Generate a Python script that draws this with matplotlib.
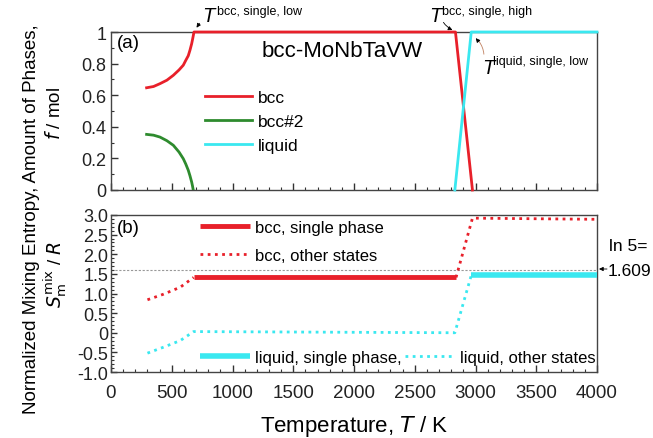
import matplotlib
matplotlib.use("Agg")
import matplotlib.pyplot as plt
from matplotlib.patches import FancyArrowPatch
from matplotlib.ticker import MultipleLocator

plt.rcParams['font.family'] = ['Liberation Sans', 'DejaVu Sans']

# ---- data (a) amount of phases ----
T_bcc = [293, 350, 403, 460, 513, 560, 595, 615, 636, 650, 664, 673, 683, 2835, 2975]
f_bcc = [0.647, 0.655, 0.673, 0.695, 0.726, 0.76, 0.79, 0.82, 0.85, 0.885, 0.926, 0.96, 1.0, 1.0, 0.0]
T_bcc2 = [293, 350, 403, 460, 513, 560, 595, 615, 636, 650, 664, 671, 677]
f_bcc2 = [0.352, 0.347, 0.335, 0.312, 0.283, 0.24, 0.198, 0.165, 0.125, 0.09, 0.05, 0.025, 0.0]
T_liq = [2830, 2965, 4000]
f_liq = [0.0, 1.0, 1.0]

# ---- data (b) normalized mixing entropy ----
T_bcc_other1 = [300, 430, 570, 680]
S_bcc_other1 = [0.84, 0.98, 1.16, 1.41]
T_bcc_single = [680, 2840]
S_bcc_single = [1.41, 1.41]
T_bcc_other2 = [2840, 2975, 4000]
S_bcc_other2 = [1.41, 2.92, 2.89]
T_liq_other = [300, 430, 570, 680, 2830, 2965]
S_liq_other = [-0.52, -0.37, -0.20, 0.03, 0.0, 1.46]
T_liq_single = [2965, 4000]
S_liq_single = [1.46, 1.46]
ln5 = 1.609

RED = '#e8202a'
GREEN = '#2e8b2e'
CYAN = '#3ae8f0'
SPINE = '#444444'

W, H = 653, 439
fig = plt.figure(figsize=(W / 100, H / 100), dpi=100)

def box(l, t, r, b):
    return [l / W, 1 - b / H, (r - l) / W, (b - t) / H]

def fx(x):
    return x / W

def fy(y):
    return 1 - y / H

ax1 = fig.add_axes(box(111, 33, 597, 191))
ax2 = fig.add_axes(box(111, 216, 597, 373))

for ax in (ax1, ax2):
    ax.set_xlim(0, 4000)
    ax.xaxis.set_major_locator(MultipleLocator(500))
    ax.xaxis.set_minor_locator(MultipleLocator(100))
    ax.tick_params(which='both', direction='in', top=False, right=False,
                   colors='#333333', labelcolor='#222222')
    ax.tick_params(which='major', length=5, width=1)
    ax.tick_params(which='minor', length=2.5, width=0.8)
    for s in ax.spines.values():
        s.set_color(SPINE)
        s.set_linewidth(1.0)

# (a)
ax1.set_ylim(0, 1)
ax1.set_yticks([0, 0.2, 0.4, 0.6, 0.8, 1.0])
ax1.set_yticklabels(['0', '0.2', '0.4', '0.6', '0.8', '1'])
ax1.yaxis.set_minor_locator(MultipleLocator(0.1))
ax1.tick_params(axis='y', labelsize=13)
ax1.tick_params(axis='x', labelbottom=False)

l1, = ax1.plot(T_bcc, f_bcc, color=RED, lw=2, solid_joinstyle='round', clip_on=False, zorder=3)
l2, = ax1.plot(T_bcc2, f_bcc2, color=GREEN, lw=2, solid_joinstyle='round', zorder=3)
l3, = ax1.plot(T_liq, f_liq, color=CYAN, lw=2, clip_on=False, zorder=3)
ax1.legend([l1, l2, l3], ['bcc', 'bcc#2', 'liquid'], loc='upper left',
           bbox_to_anchor=(0.193, 0.635), frameon=False, fontsize=12.5,
           borderpad=0, borderaxespad=0, handlelength=2.7, handletextpad=0.35,
           labelspacing=0.52)
ax1.text(0.013, 0.985, '(a)', transform=ax1.transAxes, fontsize=13.5, va='top', ha='left')
ax1.text(0.475, 0.88, 'bcc-MoNbTaVW', transform=ax1.transAxes, fontsize=16,
         va='center', ha='center')

def Tlabel(x, y, sup, sx, sy):
    fig.text(fx(x), fy(y), 'T', fontsize=14.5, style='italic', ha='left', va='center')
    fig.text(fx(sx), fy(sy), sup, fontsize=9, ha='left', va='center')

Tlabel(202, 16, 'bcc, single, low', 217, 12)
Tlabel(429, 16, 'bcc, single, high', 442, 12)
Tlabel(482, 68, 'liquid, single, low', 493, 62)

arrow_kw = dict(arrowstyle='-|>', color='black', lw=0.6, mutation_scale=6)
fig.add_artist(FancyArrowPatch((fx(201), fy(22)), (fx(195), fy(31)),
               transform=fig.transFigure, **arrow_kw))
fig.add_artist(FancyArrowPatch((fx(442), fy(21)), (fx(455), fy(32)),
               transform=fig.transFigure, connectionstyle='arc3,rad=0.2', **arrow_kw))
fig.add_artist(FancyArrowPatch((fx(484), fy(58)), (fx(477), fy(40)),
               transform=fig.transFigure, connectionstyle='arc3,rad=0.2', color='#c08060',
               arrowstyle='-', lw=0.6))
fig.add_artist(FancyArrowPatch((fx(479), fy(43)), (fx(474), fy(37)),
               transform=fig.transFigure, **arrow_kw))

# (b)
ax2.set_ylim(-1.0, 3.0)
ax2.set_yticks([-1.0, -0.5, 0, 0.5, 1.0, 1.5, 2.0, 2.5, 3.0])
ax2.set_yticklabels(['-1.0', '-0.5', '0', '0.5', '1.0', '1.5', '2.0', '2.5', '3.0'])
ax2.yaxis.set_minor_locator(MultipleLocator(0.1))
ax2.tick_params(axis='y', which='major', length=4, labelsize=13, pad=2)
ax2.tick_params(axis='y', which='minor', length=2)
ax2.tick_params(axis='x', labelsize=13.5, pad=9)

ax2.axhline(ln5, color='#999999', lw=0.8, ls=(0, (2, 1.5)), zorder=1)
dot = (0, (1, 1.6))
b1, = ax2.plot(T_bcc_single, S_bcc_single, color=RED, lw=3.5, solid_capstyle='butt', zorder=3)
b2, = ax2.plot(T_bcc_other1, S_bcc_other1, color=RED, lw=2, ls=dot, zorder=3)
ax2.plot(T_bcc_other2, S_bcc_other2, color=RED, lw=2, ls=dot, zorder=3)
q1, = ax2.plot(T_liq_single, S_liq_single, color=CYAN, lw=4, solid_capstyle='butt', zorder=3)
q2, = ax2.plot(T_liq_other, S_liq_other, color=CYAN, lw=2, ls=dot, zorder=3)

leg_kw = dict(frameon=False, fontsize=12, borderpad=0, borderaxespad=0,
              handlelength=3.0, handletextpad=0.3, loc='upper left')
lg1 = ax2.legend([b1, b2], ['bcc, single phase', 'bcc, other states'],
                 bbox_to_anchor=(0.183, 0.97), labelspacing=0.78, **leg_kw)
ax2.add_artist(lg1)
lg2 = ax2.legend([q1], ['liquid, single phase,'], bbox_to_anchor=(0.183, 0.14), **leg_kw)
ax2.add_artist(lg2)
ax2.legend([q2], ['liquid, other states'], bbox_to_anchor=(0.605, 0.14), **leg_kw)

ax2.text(0.013, 0.975, '(b)', transform=ax2.transAxes, fontsize=13.5, va='top', ha='left')

fig.text(fx(609), fy(247), 'ln 5=', fontsize=12.5, ha='left', va='center')
fig.text(fx(608), fy(271), '1.609', fontsize=12.5, ha='left', va='center')
fig.add_artist(FancyArrowPatch((fx(607), fy(270)), (fx(599), fy(270)),
               transform=fig.transFigure, arrowstyle='-|>', color='black', lw=0.6,
               mutation_scale=6, shrinkA=0, shrinkB=0))

ax2.set_xlabel('Temperature, $\\it{T}$ / K', fontsize=16, labelpad=8)

fig.text(0.049, 0.50, 'Normalized Mixing Entropy, Amount of Phases,', rotation=90,
         fontsize=13.5, ha='center', va='center')
fig.text(fx(55), fy(113), '$\\it{f}$ / mol', rotation=90, fontsize=13.5, ha='center', va='center')
fig.text(fx(55), fy(275), '$\\it{S}_{\\rm m}^{\\rm mix}$ / $\\it{R}$', rotation=90,
         fontsize=13.5, ha='center', va='center')

fig.savefig('out.png', dpi=100)
